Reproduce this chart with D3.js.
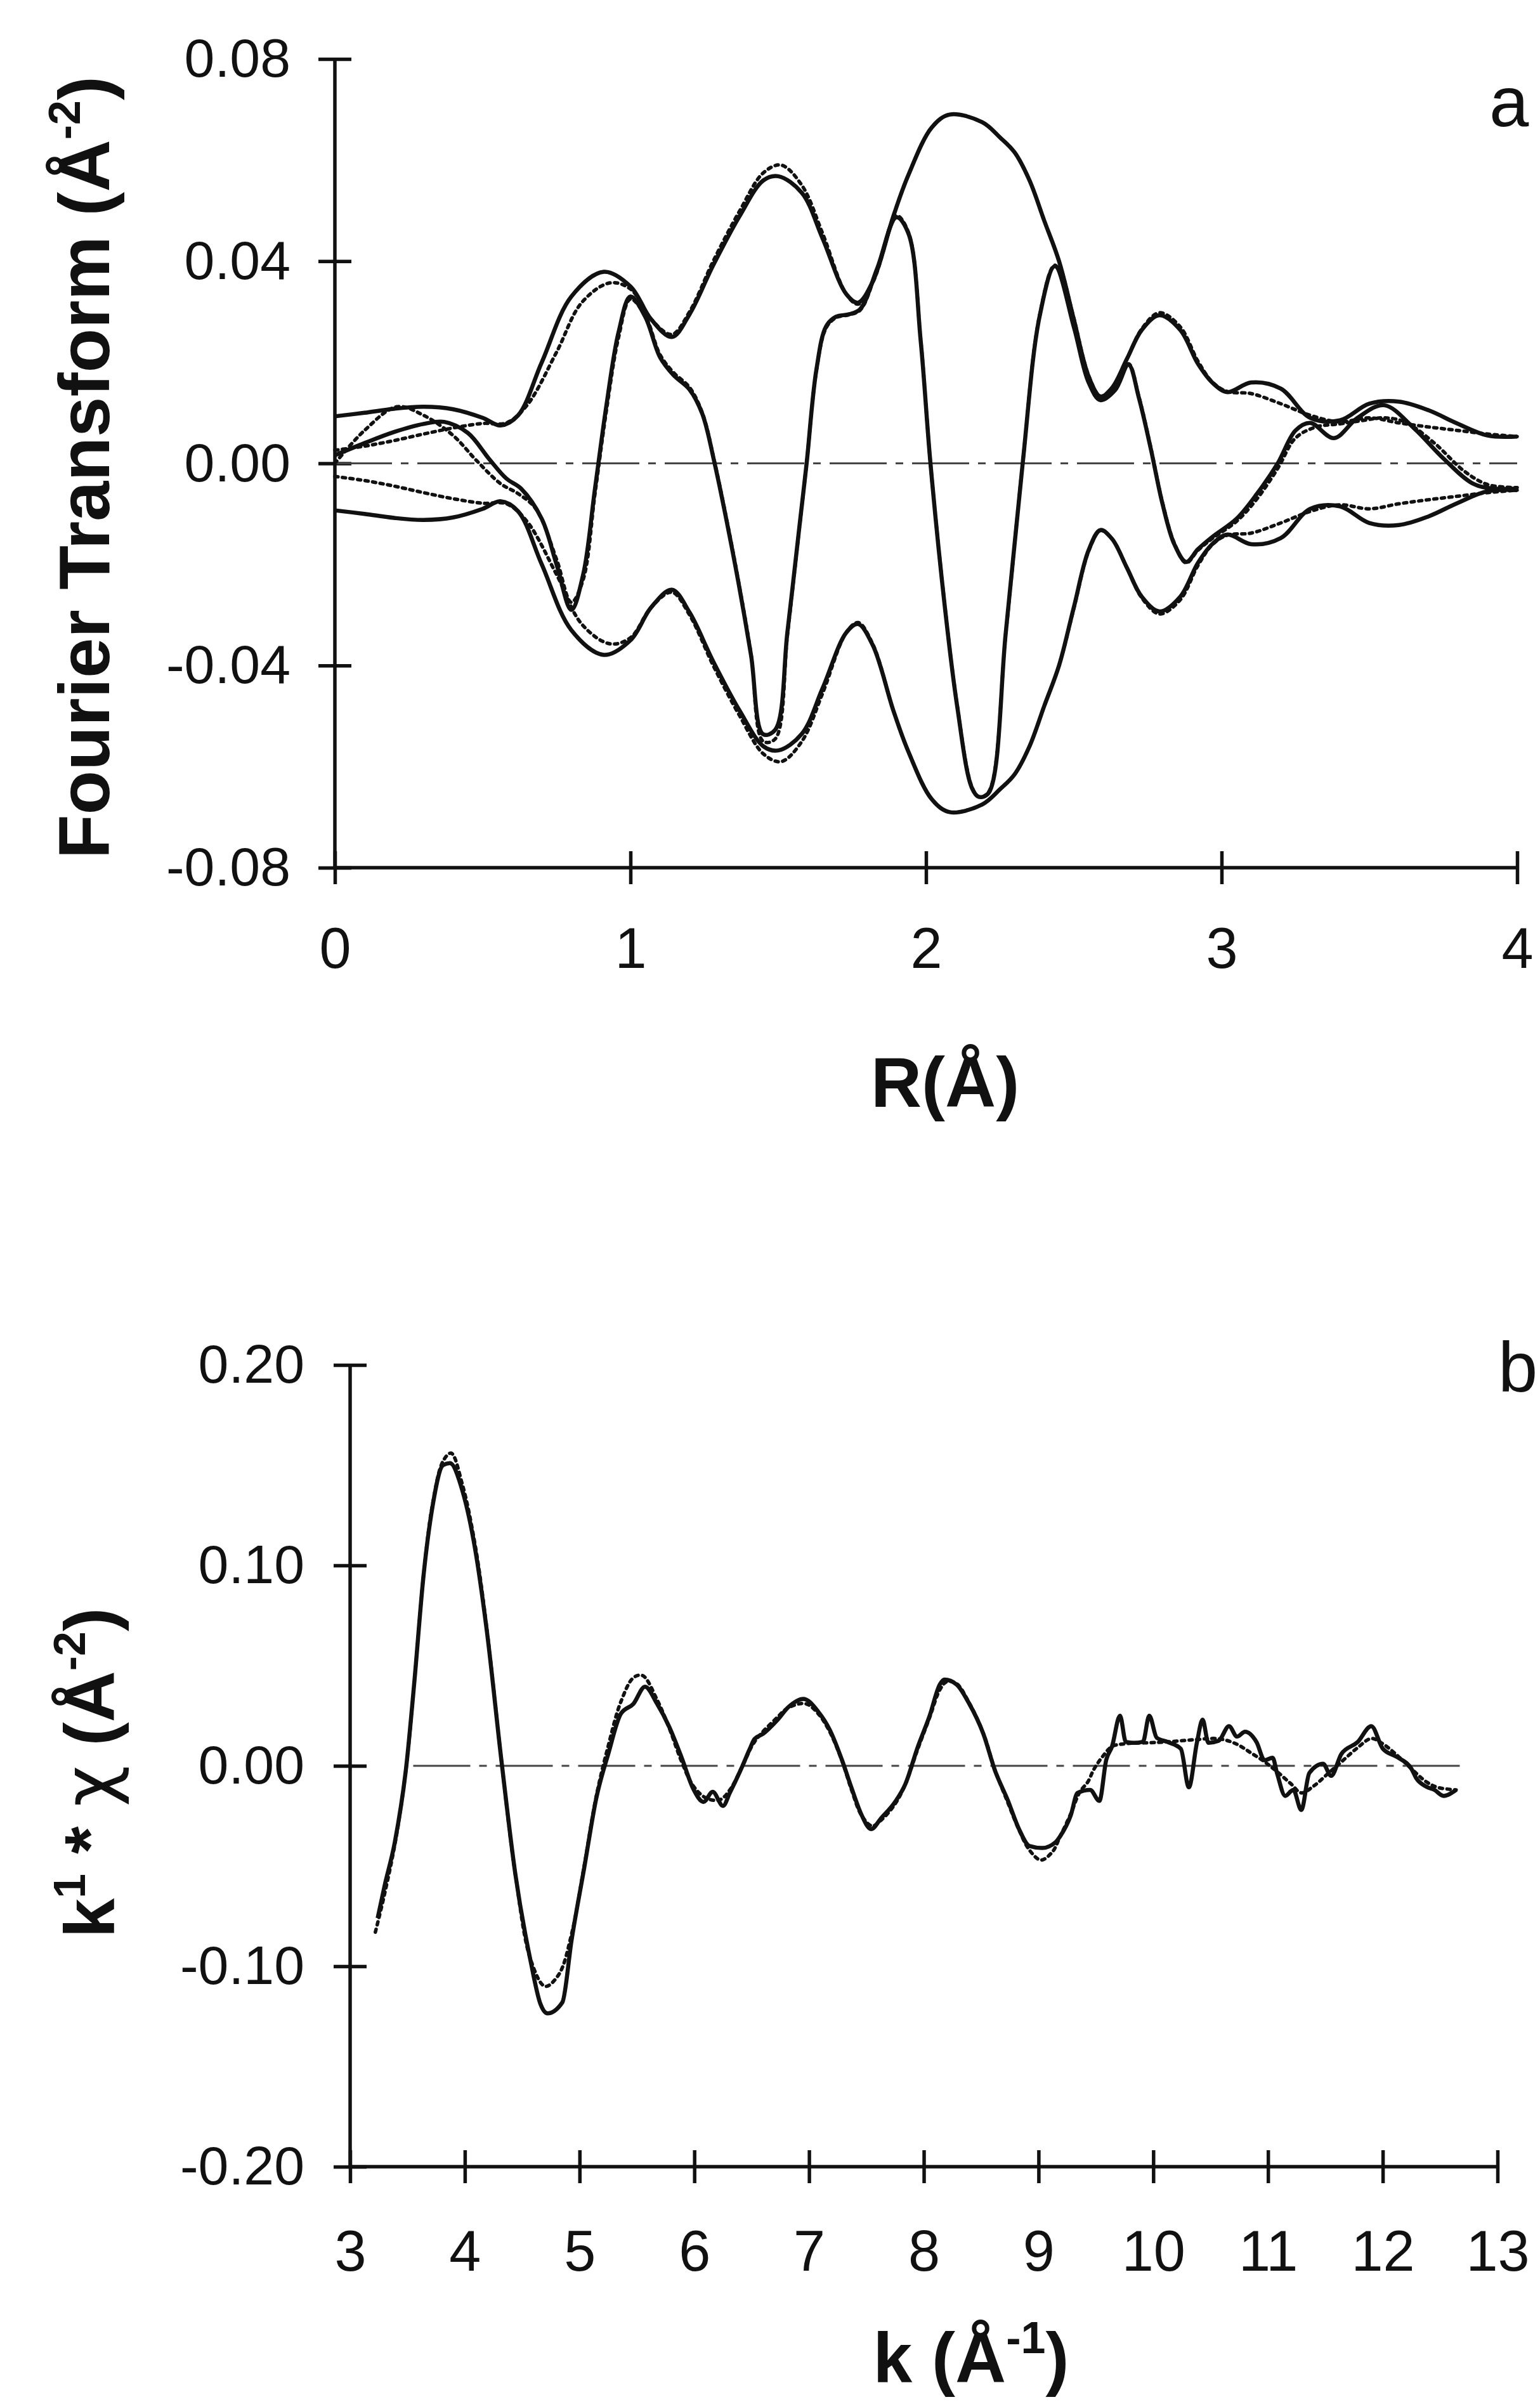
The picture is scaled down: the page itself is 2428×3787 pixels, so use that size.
<!DOCTYPE html>
<html>
<head>
<meta charset="utf-8">
<script src="https://cdn.jsdelivr.net/npm/d3@7"></script>
<style>
  body { margin: 0; background: #fff; }
  svg { display: block; }
  text { font-family: "Liberation Sans", Arial, Helvetica, sans-serif; fill: #111; }
</style>
</head>
<body>
<script>
// Panel a: Fourier transform, [R, value]. Magnitudes are drawn as +|FT| and -|FT|.
var ftMagExp = [[0,0.0093],[0.10,0.0100],[0.20,0.0108],[0.30,0.0112],[0.40,0.0107],[0.50,0.0090],[0.56,0.0075],
  [0.62,0.0095],[0.70,0.0200],[0.80,0.0330],[0.91,0.0379],[1.00,0.0350],[1.07,0.0285],[1.14,0.0250],[1.20,0.0295],
  [1.28,0.0392],[1.37,0.0490],[1.45,0.0560],[1.50,0.0568],[1.58,0.0535],[1.65,0.0445],[1.73,0.0335],[1.77,0.0318],
  [1.82,0.0360],[1.89,0.0490],[1.94,0.0570],[2.02,0.0665],[2.08,0.0690],[2.19,0.0675],[2.25,0.0645],[2.30,0.0615],
  [2.35,0.0560],[2.40,0.0480],[2.45,0.0400],[2.50,0.0285],[2.55,0.0172],[2.59,0.0132],[2.63,0.0150],[2.68,0.0207],
  [2.73,0.0264],[2.79,0.0293],[2.86,0.0264],[2.92,0.0197],[2.97,0.0159],[3.02,0.0141],[3.10,0.0160],[3.20,0.0148],
  [3.30,0.0090],[3.40,0.0085],[3.50,0.0118],[3.60,0.0122],[3.70,0.0105],[3.80,0.0078],[3.90,0.0055],[4.00,0.0053]];

var ftMagFit = [[0,0.0026],[0.10,0.0034],[0.20,0.0045],[0.30,0.0058],[0.40,0.0070],[0.50,0.0079],[0.58,0.0080],
  [0.65,0.0115],[0.75,0.0220],[0.835,0.0318],[0.93,0.0357],[1.00,0.0345],[1.07,0.0285],[1.14,0.0255],[1.20,0.0300],
  [1.28,0.0400],[1.37,0.0500],[1.45,0.0575],[1.51,0.0590],[1.58,0.0550],[1.65,0.0455],[1.73,0.0335],[1.77,0.0315],
  [1.82,0.0358],[1.89,0.0490],[1.94,0.0570],[2.02,0.0665],[2.08,0.0690],[2.19,0.0675],[2.25,0.0645],[2.30,0.0615],
  [2.35,0.0560],[2.40,0.0480],[2.45,0.0400],[2.50,0.0287],[2.55,0.0174],[2.59,0.0133],[2.63,0.0150],[2.68,0.0207],
  [2.73,0.0266],[2.79,0.0298],[2.86,0.0270],[2.92,0.0202],[2.97,0.0160],[3.02,0.0142],[3.10,0.0138],[3.20,0.0118],
  [3.30,0.0095],[3.40,0.0082],[3.50,0.0090],[3.60,0.0080],[3.70,0.0072],[3.80,0.0065],[3.90,0.0058],[4.00,0.0053]];

var ftImExp = [[0,0.0016],[0.10,0.0040],[0.20,0.0062],[0.30,0.0078],[0.37,0.0082],[0.45,0.0060],[0.52,0.0010],
  [0.58,-0.0030],[0.63,-0.0050],[0.70,-0.0110],[0.75,-0.0200],[0.80,-0.0290],[0.84,-0.0220],[0.88,-0.0050],
  [0.92,0.0120],[0.96,0.0260],[1.00,0.0330],[1.05,0.0290],[1.10,0.0210],[1.145,0.0175],[1.20,0.0146],[1.243,0.0098],
  [1.284,0.0002],[1.325,-0.0113],[1.366,-0.0238],[1.408,-0.0380],[1.449,-0.0536],[1.49,-0.0527],[1.531,-0.0334],
  [1.572,-0.0123],[1.596,0.0],[1.629,0.0185],[1.662,0.0271],[1.695,0.0290],[1.74,0.0295],[1.777,0.0305],
  [1.835,0.0386],[1.90,0.0487],[1.941,0.0454],[1.982,0.0242],[2.015,0.0],[2.064,-0.0286],[2.105,-0.0479],
  [2.155,-0.0642],[2.179,-0.0660],[2.212,-0.0652],[2.27,-0.0334],[2.327,0.0],[2.384,0.0290],[2.436,0.0390],
  [2.50,0.0270],[2.55,0.0160],[2.59,0.0125],[2.64,0.0145],[2.685,0.0195],[2.72,0.0130],[2.76,0.0030],[2.80,-0.0080],
  [2.84,-0.0160],[2.88,-0.0195],[2.92,-0.0170],[2.97,-0.0145],[3.05,-0.0110],[3.12,-0.0060],[3.19,0.0],
  [3.25,0.0065],[3.30,0.0080],[3.38,0.0050],[3.46,0.0090],[3.55,0.0115],[3.65,0.0070],[3.75,0.0010],
  [3.85,-0.0040],[3.92,-0.0050],[4.00,-0.0050]];

var ftImFit = [[0,0.0],[0.10,0.0065],[0.21,0.0112],[0.30,0.0095],[0.40,0.0055],[0.48,0.0005],[0.56,-0.0040],
  [0.62,-0.0060],[0.68,-0.0090],[0.75,-0.0190],[0.80,-0.0275],[0.84,-0.0230],[0.88,-0.0060],[0.92,0.0110],
  [0.96,0.0250],[1.00,0.0325],[1.05,0.0292],[1.10,0.0215],[1.145,0.0180],[1.20,0.0150],[1.243,0.0100],
  [1.284,0.0004],[1.325,-0.0110],[1.366,-0.0235],[1.408,-0.0378],[1.449,-0.0550],[1.49,-0.0545],[1.531,-0.0340],
  [1.572,-0.0125],[1.596,0.0],[1.629,0.0183],[1.662,0.0268],[1.695,0.0288],[1.74,0.0294],[1.777,0.0303],
  [1.835,0.0384],[1.90,0.0490],[1.941,0.0456],[1.982,0.0244],[2.015,0.0],[2.064,-0.0284],[2.105,-0.0477],
  [2.155,-0.0640],[2.179,-0.0660],[2.212,-0.0650],[2.27,-0.0336],[2.327,0.0],[2.384,0.0292],[2.436,0.0392],
  [2.50,0.0272],[2.55,0.0162],[2.59,0.0127],[2.64,0.0147],[2.685,0.0197],[2.72,0.0132],[2.76,0.0032],
  [2.80,-0.0078],[2.84,-0.0158],[2.88,-0.0197],[2.92,-0.0172],[2.97,-0.0148],[3.05,-0.0115],[3.12,-0.0070],
  [3.19,-0.0010],[3.25,0.0050],[3.32,0.0072],[3.40,0.0078],[3.48,0.0085],[3.55,0.0090],[3.62,0.0082],
  [3.72,0.0040],[3.82,-0.0015],[3.90,-0.0042],[4.00,-0.0048]];

// Panel b: k^1 * chi, [k, value]
var chiExp = [[3.24,-0.076],[3.30,-0.060],[3.39,-0.038],[3.49,0.000],[3.56,0.042],[3.64,0.095],[3.72,0.130],
  [3.81,0.150],[3.87,0.151],[3.98,0.137],[4.09,0.108],[4.19,0.068],[4.32,0.002],[4.44,-0.054],[4.575,-0.098],
  [4.66,-0.119],[4.72,-0.1235],[4.85,-0.118],[4.93,-0.087],[5.04,-0.051],[5.146,-0.016],[5.25,0.006],[5.36,0.026],
  [5.47,0.031],[5.57,0.0395],[5.675,0.031],[5.78,0.0196],[5.89,0.004],[5.99,-0.0114],[6.08,-0.018],[6.16,-0.013],
  [6.25,-0.020],[6.31,-0.0134],[6.42,0.000],[6.48,0.008],[6.525,0.0134],[6.60,0.016],[6.72,0.0226],[6.82,0.0293],
  [6.95,0.0334],[7.08,0.027],[7.18,0.018],[7.29,0.0024],[7.37,-0.011],[7.46,-0.0248],[7.54,-0.0316],[7.63,-0.026],
  [7.75,-0.018],[7.84,-0.009],[7.945,0.009],[8.05,0.0248],[8.14,0.0406],[8.18,0.043],[8.285,0.0406],[8.39,0.0316],
  [8.52,0.0158],[8.62,-0.0023],[8.73,-0.0169],[8.83,-0.0316],[8.92,-0.040],[9.03,-0.041],[9.15,-0.038],[9.19,-0.035],
  [9.28,-0.0248],[9.34,-0.0135],[9.45,-0.012],[9.53,-0.0175],[9.59,0.003],[9.64,0.0096],[9.71,0.025],
  [9.76,0.012],[9.83,0.0115],[9.91,0.012],[9.965,0.025],[10.03,0.014],[10.13,0.0118],[10.24,0.0085],
  [10.31,-0.0107],[10.38,0.0115],[10.43,0.023],[10.48,0.0115],[10.57,0.0125],[10.66,0.0198],
  [10.73,0.0146],[10.80,0.017],[10.90,0.0118],[10.97,0.0028],[11.04,0.004],[11.08,-0.004],[11.15,-0.015],
  [11.22,-0.012],[11.29,-0.022],[11.36,-0.0036],[11.48,0.001],[11.55,-0.005],[11.64,0.006],[11.78,0.0118],
  [11.90,0.0198],[12.0,0.0086],[12.13,0.0042],[12.25,-0.0015],[12.29,-0.006],[12.38,-0.0104],[12.45,-0.012],
  [12.53,-0.015],[12.64,-0.012]];

var chiFit = [[3.22,-0.083],[3.30,-0.064],[3.40,-0.036],[3.49,0.0],[3.56,0.042],[3.64,0.095],[3.72,0.131],
  [3.81,0.152],[3.88,0.156],[3.98,0.140],[4.09,0.110],[4.19,0.069],[4.32,0.002],[4.44,-0.054],[4.575,-0.097],
  [4.70,-0.110],[4.82,-0.104],[4.93,-0.084],[5.04,-0.050],[5.146,-0.015],[5.25,0.010],[5.36,0.032],[5.47,0.044],
  [5.55,0.045],[5.675,0.033],[5.78,0.019],[5.89,0.002],[5.99,-0.010],[6.10,-0.016],[6.22,-0.017],[6.31,-0.012],
  [6.42,0.000],[6.525,0.012],[6.72,0.024],[6.82,0.029],[6.97,0.031],[7.08,0.026],[7.18,0.017],[7.29,0.002],
  [7.37,-0.012],[7.46,-0.025],[7.55,-0.030],[7.63,-0.027],[7.75,-0.019],[7.84,-0.009],[7.945,0.008],[8.05,0.024],
  [8.14,0.038],[8.20,0.042],[8.285,0.041],[8.39,0.032],[8.52,0.016],[8.62,-0.002],[8.73,-0.018],[8.83,-0.032],
  [8.92,-0.042],[9.02,-0.047],[9.12,-0.043],[9.19,-0.035],[9.28,-0.024],[9.36,-0.013],[9.43,-0.008],[9.48,-0.002],
  [9.55,0.004],[9.64,0.0096],[9.75,0.011],[9.95,0.0115],[10.13,0.012],[10.35,0.013],[10.57,0.0135],[10.72,0.011],
  [10.85,0.0065],[10.97,0.002],[11.08,-0.003],[11.20,-0.009],[11.29,-0.0135],[11.40,-0.010],[11.52,-0.004],
  [11.64,0.002],[11.78,0.009],[11.90,0.0136],[12.0,0.011],[12.13,0.005],[12.25,-0.0015],[12.38,-0.008],
  [12.48,-0.0108],[12.64,-0.012]];

// Tick labels
var ftYTicks = [-0.08, -0.04, 0.00, 0.04, 0.08];
var ftXTicks = [0, 1, 2, 3, 4];
var chiYTicks = [-0.20, -0.10, 0.00, 0.10, 0.20];
var chiXTicks = [3, 4, 5, 6, 7, 8, 9, 10, 11, 12, 13];

var W = 2428, H = 3787;
var ink = "#111";

var svg = d3.select("body").append("svg")
    .attr("width", W)
    .attr("height", H);
svg.append("rect").attr("width", W).attr("height", H).attr("fill", "#fff");

// Draws crossing ticks on both axes, the axis lines and tick labels.
function drawAxes(x, y, xTicks, yTicks, opts) {
    var x0 = x(x.domain()[0]);
    var y0 = y(y.domain()[0]);
    var yTop = y(y.domain()[1]);
    var xEnd = x(x.domain()[1]);

    var left = svg.append("g")
        .attr("transform", "translate(" + (x0 + 26) + ",0)")
        .call(d3.axisLeft(y).tickValues(yTicks).tickSize(52).tickPadding(opts.yPad)
            .tickFormat(function (v) { return v.toFixed(2); }));
    left.select(".domain").remove();
    left.selectAll("line").attr("stroke", ink).attr("stroke-width", 5.5);
    left.selectAll("text")
        .attr("font-size", 86)
        .attr("font-family", "Liberation Sans, Arial, sans-serif")
        .attr("fill", ink);

    var bottom = svg.append("g")
        .attr("transform", "translate(0," + (y0 - 26) + ")")
        .call(d3.axisBottom(x).tickValues(xTicks).tickSize(52).tickPadding(opts.xPad)
            .tickFormat(d3.format("d")));
    bottom.select(".domain").remove();
    bottom.selectAll("line").attr("stroke", ink).attr("stroke-width", 5.5);
    bottom.selectAll("text")
        .attr("font-size", 90)
        .attr("font-family", "Liberation Sans, Arial, sans-serif")
        .attr("fill", ink);

    svg.append("line")
        .attr("x1", x0).attr("x2", x0)
        .attr("y1", yTop).attr("y2", y0)
        .attr("stroke", ink).attr("stroke-width", 5.5);
    svg.append("line")
        .attr("x1", x0).attr("x2", xEnd)
        .attr("y1", y0).attr("y2", y0)
        .attr("stroke", ink).attr("stroke-width", 5.5);
}

function zeroLine(x, y, from, to) {
    svg.append("line")
        .attr("x1", x(from)).attr("x2", x(to))
        .attr("y1", y(0)).attr("y2", y(0))
        .attr("stroke", "#444")
        .attr("stroke-width", 3)
        .attr("stroke-dasharray", "90,14,12,14");
}

// ---------- Panel a ----------
var xR = d3.scaleLinear().domain([0, 4]).range([528, 2392]);
var yFT = d3.scaleLinear().domain([-0.08, 0.08]).range([1368, 93]);

drawAxes(xR, yFT, ftXTicks, ftYTicks, { yPad: 44, xPad: 68 });
zeroLine(xR, yFT, 0, 4);

var smooth = d3.curveCatmullRom.alpha(0.5);
var lineUp = d3.line().x(function (d) { return xR(d[0]); }).y(function (d) { return yFT(d[1]); }).curve(smooth);
var lineDown = d3.line().x(function (d) { return xR(d[0]); }).y(function (d) { return yFT(-d[1]); }).curve(smooth);

function path(d, gen, dashed) {
    svg.append("path")
        .attr("d", gen(d))
        .attr("fill", "none")
        .attr("stroke", ink)
        .attr("stroke-width", dashed ? 5.5 : 6.5)
        .attr("stroke-linejoin", "round")
        .attr("stroke-linecap", dashed ? "round" : "butt")
        .attr("stroke-dasharray", dashed ? "5,7" : null);
}

path(ftMagExp, lineUp, false);
path(ftMagExp, lineDown, false);
path(ftImExp, lineUp, false);
path(ftMagFit, lineUp, true);
path(ftMagFit, lineDown, true);
path(ftImFit, lineUp, true);

// axis titles and panel letter
var titleA = svg.append("text")
    .attr("transform", "translate(172,737) rotate(-90)")
    .attr("text-anchor", "middle")
    .attr("font-size", 114)
    .attr("font-weight", "bold");
titleA.append("tspan").text("Fourier Transform (Å");
titleA.append("tspan").attr("font-size", 70).attr("dy", -46).text("-2");
titleA.append("tspan").attr("dy", 46).text(")");

svg.append("text")
    .attr("x", 1490).attr("y", 1745)
    .attr("text-anchor", "middle")
    .attr("font-size", 111)
    .attr("font-weight", "bold")
    .text("R(Å)");

svg.append("text")
    .attr("x", 2348).attr("y", 199)
    .attr("font-size", 112)
    .text("a");

// ---------- Panel b ----------
var xK = d3.scaleLinear().domain([3, 13]).range([552, 2361]);
var yChi = d3.scaleLinear().domain([-0.2, 0.2]).range([3416, 2152]);

drawAxes(xK, yChi, chiXTicks, chiYTicks, { yPad: 46, xPad: 74 });
zeroLine(xK, yChi, 3.55, 12.7);

var lineChiExp = d3.line().x(function (d) { return xK(d[0]); }).y(function (d) { return yChi(d[1]); })
    .curve(d3.curveMonotoneX);
var lineChiFit = d3.line().x(function (d) { return xK(d[0]); }).y(function (d) { return yChi(d[1]); })
    .curve(smooth);

path(chiExp, lineChiExp, false);
path(chiFit, lineChiFit, true);

var titleB = svg.append("text")
    .attr("transform", "translate(180,2795) rotate(-90)")
    .attr("text-anchor", "middle")
    .attr("font-size", 112)
    .attr("font-weight", "bold");
titleB.append("tspan").text("k");
titleB.append("tspan").attr("font-size", 70).attr("dy", -46).text("1");
titleB.append("tspan").attr("dy", 46).text(" * ");
titleB.append("tspan").attr("font-weight", "normal").attr("font-family", "DejaVu Sans, Noto Sans, sans-serif").text("χ");
titleB.append("tspan").text(" (Å");
titleB.append("tspan").attr("font-size", 70).attr("dy", -46).text("-2");
titleB.append("tspan").attr("dy", 46).text(")");

var titleK = svg.append("text")
    .attr("x", 1531).attr("y", 3756)
    .attr("text-anchor", "middle")
    .attr("font-size", 111)
    .attr("font-weight", "bold");
titleK.append("tspan").text("k (Å");
titleK.append("tspan").attr("font-size", 70).attr("dy", -46).text("-1");
titleK.append("tspan").attr("dy", 46).text(")");

svg.append("text")
    .attr("x", 2362).attr("y", 2194)
    .attr("font-size", 112)
    .text("b");
</script>
</body>
</html>
